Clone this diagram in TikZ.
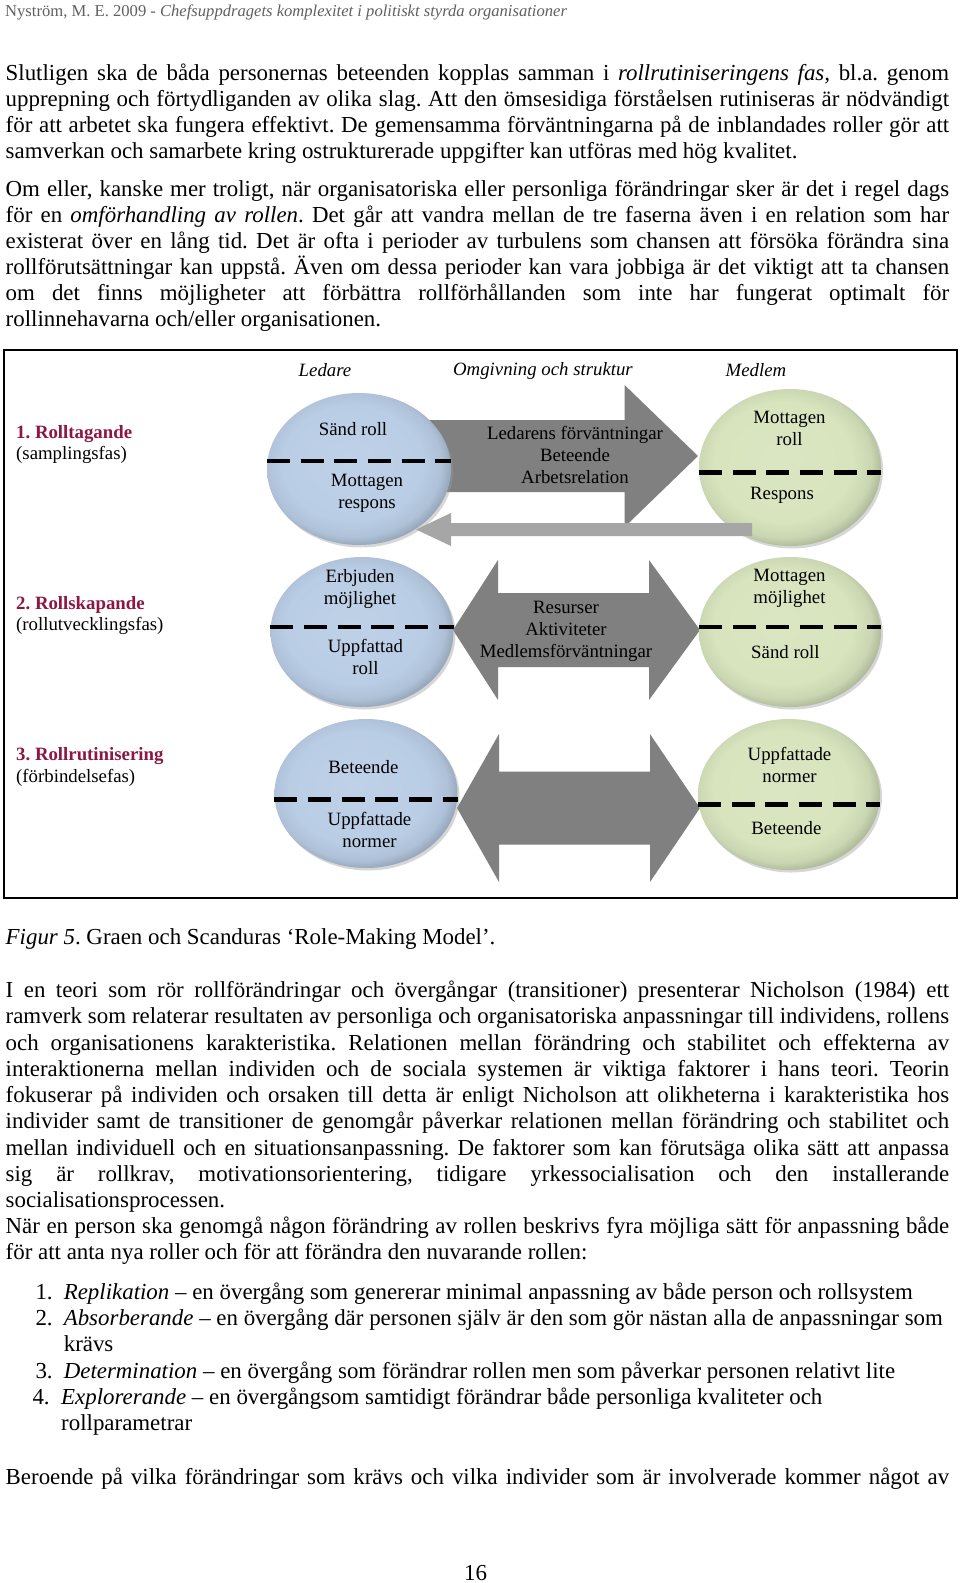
\documentclass[tikz,border=0pt]{standalone}
\usepackage{fontspec}
\setmainfont{Liberation Serif}
\usetikzlibrary{shapes.geometric,calc,shadows}

\definecolor{ledblue}{RGB}{185,205,229}
\definecolor{medgreen}{RGB}{215,228,189}
\definecolor{arrdark}{RGB}{128,128,128}
\definecolor{arrlight}{RGB}{166,166,166}
\definecolor{fasred}{RGB}{140,22,68}
\definecolor{headgray}{RGB}{96,96,96}

\pgfdeclareradialshading{ledrim}{\pgfpoint{-3bp}{3bp}}{color(0bp)=(ledblue!92!white);
  color(19bp)=(ledblue); color(24bp)=(ledblue!94!black); color(27bp)=(ledblue!80!black);
  color(50bp)=(ledblue!80!black)}
\pgfdeclareradialshading{medrim}{\pgfpoint{-3bp}{3bp}}{color(0bp)=(medgreen!92!white);
  color(19bp)=(medgreen); color(24bp)=(medgreen!94!black); color(27bp)=(medgreen!80!black);
  color(50bp)=(medgreen!80!black)}

\newcommand{\bodyfont}{\fontsize{22.9}{26}\selectfont}
\newcommand{\figfont}{\fontsize{18.8}{22}\selectfont}
\newcommand{\headfont}{\fontsize{16.6}{19}\selectfont}
\newcommand{\jline}[1]{\makebox[943.5pt][s]{#1}}
\frenchspacing

\begin{document}
\begin{tikzpicture}[x=1pt,y=-1pt,
  txt/.style={anchor=base west,inner sep=0pt,font=\bodyfont},
  lbl/.style={inner sep=0pt,font=\figfont,align=center},
  fasbox/.style={anchor=base west,inner sep=0pt,font=\figfont},
  ledare/.style={ellipse,inner sep=0pt,shading=ledrim,
    drop shadow={shadow xshift=2pt,shadow yshift=-2.5pt,fill=black!40,opacity=.4}},
  medlem/.style={ellipse,inner sep=0pt,shading=medrim,
    drop shadow={shadow xshift=2pt,shadow yshift=-2.5pt,fill=black!40,opacity=.4}},
  divider/.style={line width=4.5pt,dash pattern=on 23pt off 10.7pt},
  darkarrow/.style={fill=arrdark},
  lightarrow/.style={fill=arrlight}]
\fill[white] (0,0) rectangle (960,1583);
\useasboundingbox (0,0) rectangle (960,1583);

\node[anchor=base west,inner sep=0pt,font=\headfont,text=headgray] (head) at (5,16)
  {Nyström, M. E. 2009 - \textit{Chefsuppdragets komplexitet i politiskt styrda organisationer}};

% text above the figure
\node[txt] (p1a) at (5.5,80) {\jline{Slutligen ska de båda personernas beteenden kopplas samman i \textit{rollrutiniseringens fas,} bl.a. genom}};
\node[txt] (p1b) at (5.5,106) {\jline{upprepning och förtydliganden av olika slag. Att den ömsesidiga förståelsen rutiniseras är nödvändigt}};
\node[txt] (p1c) at (5.5,132) {\jline{för att arbetet ska fungera effektivt. De gemensamma förväntningarna på de inblandades roller gör att}};
\node[txt] (p1d) at (5.5,158) {samverkan och samarbete kring ostrukturerade uppgifter kan utföras med hög kvalitet.};

\node[txt] (p2a) at (5.5,196) {\jline{Om eller, kanske mer troligt, när organisatoriska eller personliga förändringar sker är det i regel dags}};
\node[txt] (p2b) at (5.5,222) {\jline{för en \textit{omförhandling av rollen}. Det går att vandra mellan de tre faserna även i en relation som har}};
\node[txt] (p2c) at (5.5,248) {\jline{existerat över en lång tid. Det är ofta i perioder av turbulens som chansen att försöka förändra sina}};
\node[txt] (p2d) at (5.5,274) {\jline{rollförutsättningar kan uppstå. Även om dessa perioder kan vara jobbiga är det viktigt att ta chansen}};
\node[txt] (p2e) at (5.5,300) {\jline{om det finns möjligheter att förbättra rollförhållanden som inte har fungerat optimalt för}};
\node[txt] (p2f) at (5.5,326) {rollinnehavarna och/eller organisationen.};

% the figure
\draw[line width=2pt] (4,350) rectangle (957,898);

\node[lbl] (hled) at (325,370.5) {\textit{Ledare}};
\node[lbl] (homg) at (543,370.5) {\textit{Omgivning och struktur}};
\node[lbl] (hmed) at (756,370.5) {\textit{Medlem}};

\node[fasbox] (fas1) at (16,438) {\textcolor{fasred}{\textbf{1. Rolltagande}}};
\node[fasbox] (fas1b) at (16,459) {(samplingsfas)};
\node[fasbox] (fas2) at (16,609) {\textcolor{fasred}{\textbf{2. Rollskapande}}};
\node[fasbox] (fas2b) at (16,630) {(rollutvecklingsfas)};
\node[fasbox] (fas3) at (16,760) {\textcolor{fasred}{\textbf{3. Rollrutinisering}}};
\node[fasbox] (fas3b) at (16,782) {(förbindelsefas)};

% row 1
\fill[darkarrow] (400,420) -- (624.6,420) -- (624.6,385) -- (698,456)
  -- (624.6,527) -- (624.6,492) -- (400,492) -- cycle;
\node[ledare,minimum width=184,minimum height=152] (led1) at (359,469) {};
\node[medlem,minimum width=182,minimum height=157] (med1) at (790,467.5) {};
\fill[lightarrow] (752,523) -- (451,523) -- (451,513) -- (416,529.5)
  -- (451,546) -- (451,536) -- (752,536) -- cycle;
\draw[divider] ($(led1.west)+(0,-8)$) -- ($(led1.east)+(0,-8)$);
\draw[divider] ($(med1.west)+(0,5)$) -- ($(med1.east)+(0,5)$);
\node[lbl] (led1a) at (353,429) {Sänd roll};
\node[lbl] (led1b) at (367,493) {Mottagen\\respons};
\node[lbl] (omg1) at (575,455) {Ledarens förväntningar\\Beteende\\Arbetsrelation};
\node[lbl] (med1a) at (789.5,428.5) {Mottagen\\roll};
\node[lbl] (med1b) at (782,495.6) {Respons};

% row 2
\fill[darkarrow] (453,630) -- (498,560) -- (498,593) -- (649,593) -- (649,560)
  -- (700,630) -- (649,700) -- (649,667) -- (498,667) -- (498,700) -- cycle;
\node[ledare,minimum width=183,minimum height=150] (led2) at (362,632) {};
\node[medlem,minimum width=182,minimum height=150] (med2) at (790,632) {};
\draw[divider] ($(led2.west)+(0,-5)$) -- ($(led2.east)+(0,-5)$);
\draw[divider] ($(med2.west)+(0,-5)$) -- ($(med2.east)+(0,-5)$);
\node[lbl] (led2a) at (360,588.5) {Erbjuden\\möjlighet};
\node[lbl] (led2b) at (365.5,657) {Uppfattad\\roll};
\node[lbl] (omg2) at (566,631.5) {Resurser\\Aktiviteter\\Medlemsförväntningar};
\node[lbl] (med2a) at (789.5,588.5) {Mottagen\\möjlighet};
\node[lbl] (med2b) at (785.4,652) {Sänd roll};

% row 3
\fill[darkarrow] (457,808) -- (499,734) -- (499,771.5) -- (650,771.5) -- (650,734)
  -- (700,808) -- (650,882) -- (650,844.5) -- (499,844.5) -- (499,882) -- cycle;
\node[ledare,minimum width=183,minimum height=149] (led3) at (366,793.5) {};
\node[medlem,minimum width=182,minimum height=151] (med3) at (789,794.5) {};
\draw[divider] ($(led3.west)+(0,6)$) -- ($(led3.east)+(0,6)$);
\draw[divider] ($(med3.west)+(0,10)$) -- ($(med3.east)+(0,10)$);
\node[lbl] (led3a) at (363.4,767) {Beteende};
\node[lbl] (led3b) at (369.5,830) {Uppfattade\\normer};
\node[lbl] (med3a) at (789.5,765) {Uppfattade\\normer};
\node[lbl] (med3b) at (786.4,827.8) {Beteende};

% text below the figure
\node[txt] (cap) at (5.5,944) {\textit{Figur 5}. Graen och Scanduras ‘Role-Making Model’.};

\node[txt] (p3a) at (5.5,997) {\jline{I en teori som rör rollförändringar och övergångar (transitioner) presenterar Nicholson (1984) ett}};
\node[txt] (p3b) at (5.5,1023.5) {\jline{ramverk som relaterar resultaten av personliga och organisatoriska anpassningar till individens, rollens}};
\node[txt] (p3c) at (5.5,1050) {\jline{och organisationens karakteristika. Relationen mellan förändring och stabilitet och effekterna av}};
\node[txt] (p3d) at (5.5,1076) {\jline{interaktionerna mellan individen och de sociala systemen är viktiga faktorer i hans teori. Teorin}};
\node[txt] (p3e) at (5.5,1102) {\jline{fokuserar på individen och orsaken till detta är enligt Nicholson att olikheterna i karakteristika hos}};
\node[txt] (p3f) at (5.5,1128.5) {\jline{individer samt de transitioner de genomgår påverkar relationen mellan förändring och stabilitet och}};
\node[txt] (p3g) at (5.5,1155) {\jline{mellan individuell och en situationsanpassning. De faktorer som kan förutsäga olika sätt att anpassa}};
\node[txt] (p3h) at (5.5,1181) {\jline{sig är rollkrav, motivationsorientering, tidigare yrkessocialisation och den installerande}};
\node[txt] (p3i) at (5.5,1207) {socialisationsprocessen.};
\node[txt] (p4a) at (5.5,1233.5) {\jline{När en person ska genomgå någon förändring av rollen beskrivs fyra möjliga sätt för anpassning både}};
\node[txt] (p4b) at (5.5,1259.5) {för att anta nya roller och för att förändra den nuvarande rollen:};

\node[txt] (n1) at (35.3,1299) {1.};
\node[txt] (i1) at (63.6,1299) {\textit{Replikation} – en övergång som genererar minimal anpassning av både person och rollsystem};
\node[txt] (n2) at (35.3,1325.4) {2.};
\node[txt] (i2) at (63.6,1325.4) {\textit{Absorberande} – en övergång där personen själv är den som gör nästan alla de anpassningar som};
\node[txt] (i2b) at (63.6,1351.6) {krävs};
\node[txt] (n3) at (35.3,1378) {3.};
\node[txt] (i3) at (63.6,1378) {\textit{Determination} – en övergång som förändrar rollen men som påverkar personen relativt lite};
\node[txt] (n4) at (32.3,1404) {4.};
\node[txt] (i4) at (61,1404) {\textit{Explorerande} – en övergångsom samtidigt förändrar både personliga kvaliteter och};
\node[txt] (i4b) at (61,1430.4) {rollparametrar};

\node[txt] (p5a) at (5.5,1484) {\jline{Beroende på vilka förändringar som krävs och vilka individer som är involverade kommer något av}};

\node[anchor=base,inner sep=0pt,font=\bodyfont] (pnum) at (475.5,1580) {16};
\end{tikzpicture}
\end{document}
